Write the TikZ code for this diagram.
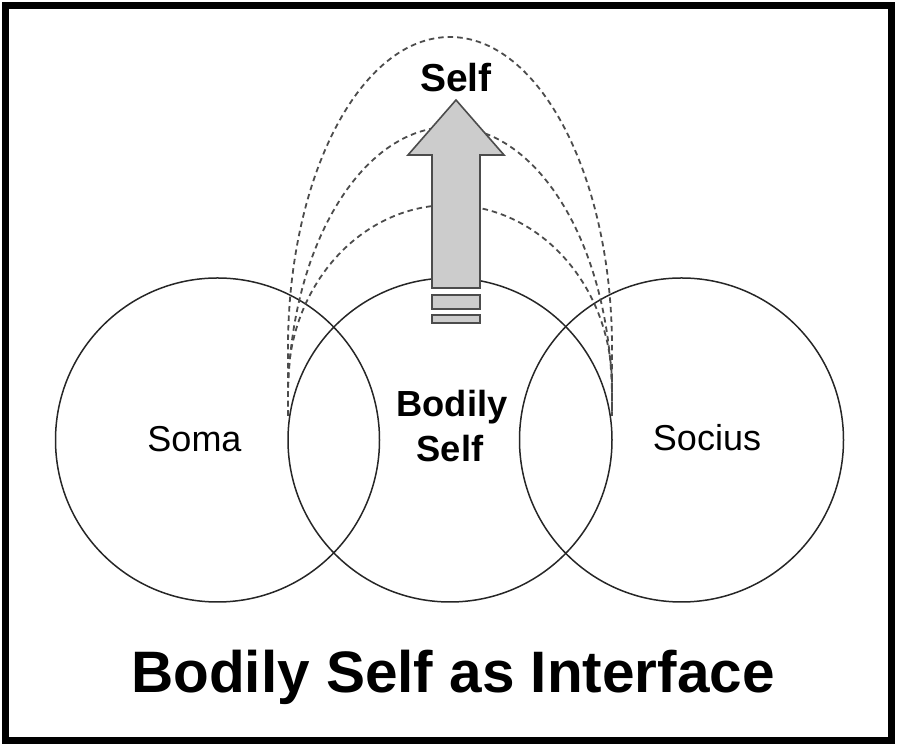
\documentclass[tikz,border=0pt]{standalone}
\usepackage{fontspec}
\setmainfont{Liberation Sans}
\begin{document}
\begin{tikzpicture}[x=1pt,y=1pt,
  ring/.style={circle,draw=black!85,line width=1.5pt,minimum size=324pt,inner sep=0pt},
  loop/.style={draw=black!70,line width=1.8pt,dash pattern=on 5.5pt off 4pt},
  arrowbody/.style={fill=black!20,draw=black!70,line width=1.6pt,line join=miter},
  plain/.style={font=\fontsize{36}{40}\selectfont,anchor=base,inner sep=0pt},
  boldlab/.style={font=\bfseries\fontsize{36.3}{40}\selectfont,anchor=base,inner sep=0pt}]
\useasboundingbox (0,0) rectangle (900,746);
\draw[line width=7pt] (5.5,740) rectangle (891,5.5);
% circles
\node[ring] (soma) at (217.5,306) {};
\node[ring] (body) at (450,306) {};
\node[ring] (socius) at (681.5,306) {};
% dashed loops
\coordinate (lA) at (288,330);
\coordinate (rA) at (612,330);
\draw[loop] (lA) -- (288,398) arc[start angle=180,end angle=0,x radius=162,y radius=311] -- (rA);
\draw[loop] (lA) -- (288,345) arc[start angle=180,end angle=0,x radius=162,y radius=274] -- (rA);
\draw[loop] (lA) -- (288,360) arc[start angle=180,end angle=0,x radius=162,y radius=181] -- (rA);
% arrow
\draw[arrowbody] (432,458) -- (432,591) -- (408,591) -- (456,646) -- (504,591) -- (480,591) -- (480,458) -- cycle;
\draw[arrowbody] (432,437) rectangle (480,451);
\draw[arrowbody] (432,423) rectangle (480,431);
% labels
\node[font=\bfseries\fontsize{39}{40}\selectfont,anchor=base,inner sep=0pt] (self) at (456,654) {Self};
\node[boldlab] (bodily) at (452,329) {Bodily};
\node[boldlab] (bself) at (450,284) {Self};
\node[plain] (somalab) at (194.5,294) {Soma};
\node[plain] (sociuslab) at (707,295) {Socius};
\node[font=\bfseries\fontsize{58.5}{60}\selectfont,anchor=base,inner sep=0pt] (title) at (453,53) {Bodily Self as Interface};
\end{tikzpicture}
\end{document}
